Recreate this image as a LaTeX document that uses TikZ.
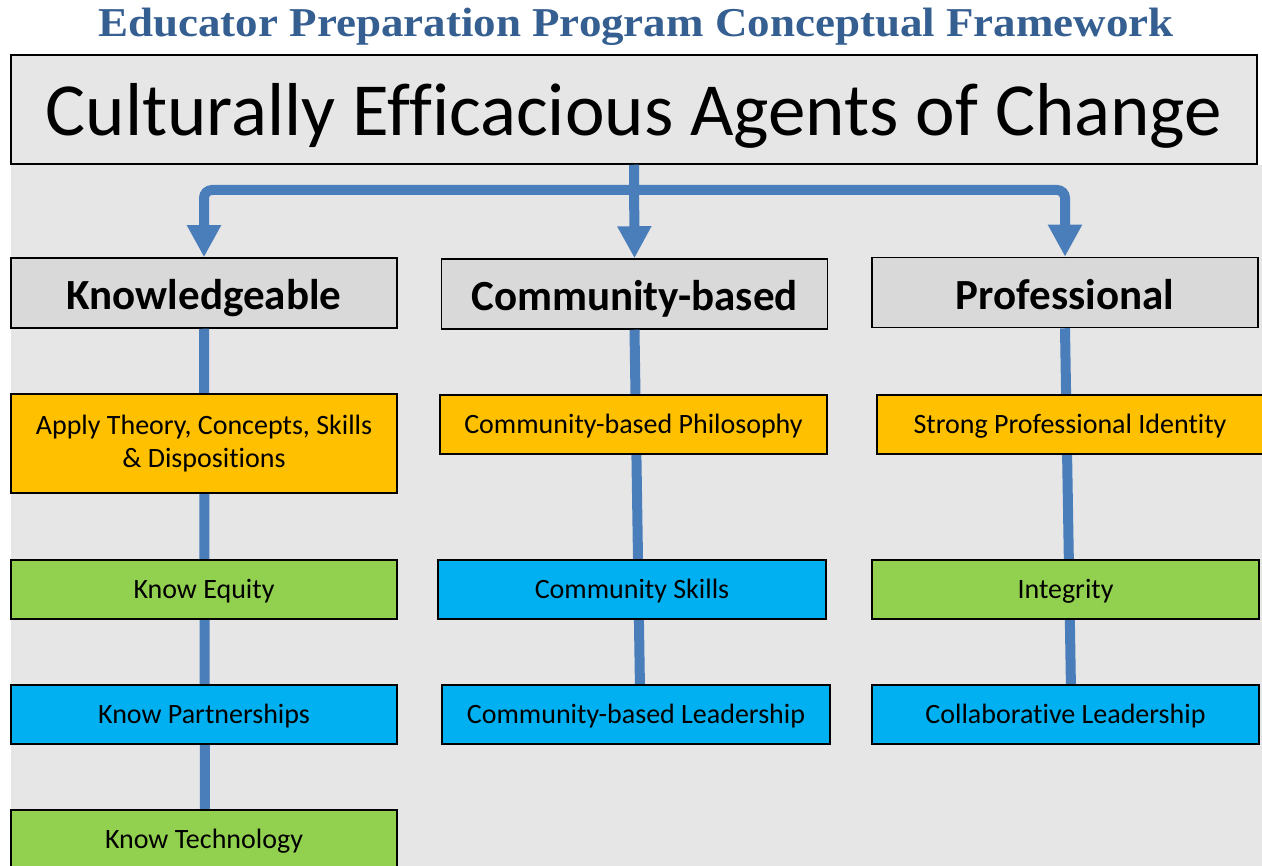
\documentclass[tikz,border=0pt]{standalone}
\usepackage{fontspec}
\setmainfont{Carlito}[Ligatures=NoCommon]
\newfontfamily\titlefont{Liberation Serif}[FakeStretch=1.097]
\usetikzlibrary{arrows.meta}
\definecolor{bggray}{HTML}{E6E6E6}
\definecolor{headgray}{HTML}{D9D9D9}
\definecolor{topgray}{HTML}{E6E6E6}
\definecolor{orangeb}{HTML}{FFC000}
\definecolor{greenb}{HTML}{92D050}
\definecolor{blueb}{HTML}{00B0F0}
\definecolor{connblue}{HTML}{4A7EBB}
\definecolor{titleblue}{HTML}{365F91}
\tikzset{
  box/.style={draw=black, line width=1.5pt, inner sep=0pt, align=center, text=black},
  topbox/.style={box, fill=topgray, minimum width=1246pt, minimum height=109pt, font=\fontsize{75}{80}\selectfont, text height=53pt, text depth=0pt},
  headbox/.style={box, fill=headgray, minimum width=386pt, minimum height=70pt, font=\fontsize{43}{48}\selectfont\bfseries, text height=34pt, text depth=0pt},
  itembox/.style={box, minimum width=386pt, minimum height=59pt, font=\fontsize{28}{33}\selectfont},
  one/.style={text height=18pt, text depth=0pt},
  ob/.style={itembox, fill=orangeb},
  gb/.style={itembox, fill=greenb},
  bb/.style={itembox, fill=blueb},
  conn/.style={draw=connblue, line width=10pt, -{Triangle[width=32pt,length=32pt]}},
  colline/.style={draw=connblue, line width=10pt},
}
\begin{document}
\begin{tikzpicture}[x=1pt,y=-1pt]
\useasboundingbox (0,0) rectangle (1262,866);
\fill[white] (0,0) rectangle (1262,866);
\fill[bggray] (11,165) rectangle (1262,866);
% title
\node[font=\titlefont\fontsize{41}{44}\selectfont\bfseries, text=titleblue, inner sep=0pt, text height=27pt, text depth=0pt] (title) at (636,23.5) {Educator Preparation Program Conceptual Framework};
% top
\node[topbox] (top) at (634,109.5) {Culturally Efficacious Agents of Change};
% headers
\node[headbox] (know) at (204,293) {Knowledgeable};
\node[headbox] (comm) at (634.5,294) {Community-based};
\node[headbox] (prof) at (1065,292.5) {Professional};
% column lines (behind item boxes)
\coordinate (kbot) at (205,866);
\draw[colline] (know.south) -- (kbot);
\coordinate (cend) at (640,690);
\draw[colline] (comm.south) -- (cend);
\coordinate (pend) at (1071,690);
\draw[colline] (prof.south) -- (pend);
% items
\node[ob, minimum height=99pt] (k1) at (204,443.5) {Apply Theory, Concepts, Skills\\\& Dispositions};
\node[gb, one] (k2) at (204,589.5) {Know Equity};
\node[bb, one] (k3) at (204,714.5) {Know Partnerships};
\node[gb, one] (k4) at (204,839.5) {Know Technology};
\node[ob, one, minimum width=387pt] (c1) at (633.5,424.5) {Community-based Philosophy};
\node[bb, one, minimum width=388pt] (c2) at (632,589.5) {Community Skills};
\node[bb, one, minimum width=388pt] (c3) at (636,714.5) {Community-based Leadership};
\node[ob, one] (p1) at (1070,424.5) {Strong Professional Identity};
\node[gb, one, minimum width=387pt] (p2) at (1065.5,589.5) {Integrity};
\node[bb, one, minimum width=387pt] (p3) at (1065.5,714.5) {Collaborative Leadership};
% connectors from top
\coordinate (junc) at (top.south |- 0,190);
\draw[conn] (top.south) -- (comm.north);
\draw[conn, rounded corners=8pt] (junc) -| (know.north);
\draw[conn, rounded corners=8pt] (junc) -| (prof.north);
\end{tikzpicture}
\end{document}
